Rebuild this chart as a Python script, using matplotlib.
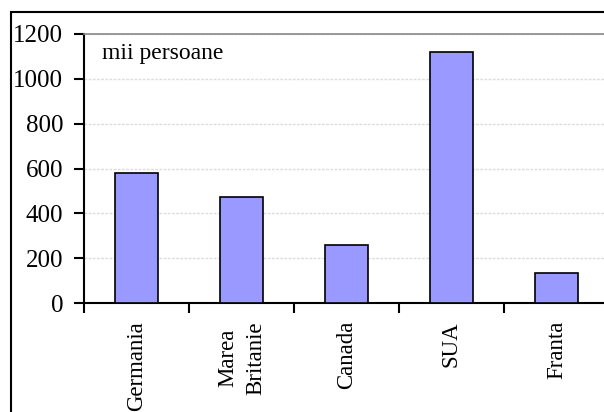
import numpy as np
import matplotlib.pyplot as plt
from matplotlib.patches import Rectangle

tari = ["Germania", "Marea\nBritanie", "Canada", "SUA", "Franta"]
valori = [580, 475, 260, 1120, 135]
yticks = [0, 200, 400, 600, 800, 1000, 1200]

plt.rcParams['font.family'] = ['Liberation Serif', 'DejaVu Serif']

fig = plt.figure(figsize=(6.04, 4.12), dpi=100)
ax = fig.add_axes([84/604, 1 - 303/412, 525/604, 269/412])

x = np.arange(len(tari))
ax.bar(x, valori, width=0.41, color='#9999FF', edgecolor='black', linewidth=1.2, zorder=3)

ax.set_xlim(-0.5, len(tari) - 0.5)
ax.set_ylim(0, 1200)
ax.set_yticks(yticks)
ax.set_yticklabels([str(v) for v in yticks], fontsize=18)
ax.yaxis.grid(True, color='#dddddd', linewidth=1, linestyle=(0, (2, 1)), zorder=0)

# ticks between categories, labels at the centres
ax.set_xticks(np.arange(-0.5, len(tari), 1.0))
ax.set_xticklabels([])
ax.set_xticks(x, minor=True)
ax.set_xticklabels(tari, minor=True, rotation=90, fontsize=16.5, va='top',
                   ha='center', multialignment='center', linespacing=1.45)
ax.tick_params(axis='x', which='minor', length=0, pad=13)
ax.tick_params(axis='x', which='major', length=7, width=1.5, direction='out')
ax.tick_params(axis='y', length=7, width=1.5, direction='out', pad=8)

for s in ['left', 'bottom']:
    ax.spines[s].set_linewidth(1.5)
ax.spines['top'].set_color('#888888')
ax.spines['top'].set_linewidth(1.2)
ax.spines['right'].set_visible(False)

ax.text(0.035, 0.965, "mii persoane", transform=ax.transAxes, fontsize=17,
        va='top', ha='left')

# chenar in jurul graficului
fig.patches.append(Rectangle((11/604, -0.1), 1.2, 1 - 12/412 + 0.1,
                             transform=fig.transFigure, fill=False,
                             edgecolor='black', linewidth=1.5))

plt.savefig("out.png", dpi=100)
